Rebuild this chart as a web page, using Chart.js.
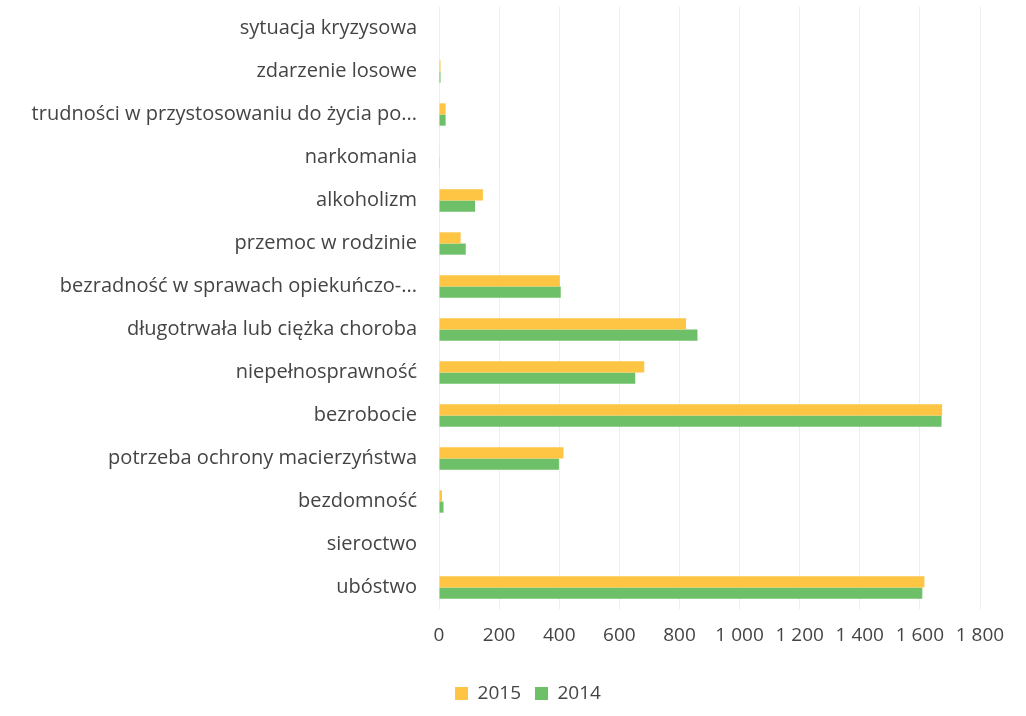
<!DOCTYPE html>
<html>
<head>
<meta charset="utf-8">
<style>
  html, body { margin: 0; padding: 0; background: #fff; }
  #wrap { width: 1026px; height: 716px; }
</style>
<script src="https://cdn.jsdelivr.net/npm/chart.js@4"></script>
</head>
<body>
<div id="wrap"><canvas id="chart"></canvas></div>
<script>
const categories = [
  "sytuacja kryzysowa",
  "zdarzenie losowe",
  "trudności w przystosowaniu do życia po...",
  "narkomania",
  "alkoholizm",
  "przemoc w rodzinie",
  "bezradność w sprawach opiekuńczo-...",
  "długotrwała lub ciężka choroba",
  "niepełnosprawność",
  "bezrobocie",
  "potrzeba ochrony macierzyństwa",
  "bezdomność",
  "sieroctwo",
  "ubóstwo"
];
const values2015 = [0, 5, 22, 2, 146, 72, 402, 822, 683, 1674, 414, 10, 0, 1615];
const values2014 = [0, 5, 22, 1, 120, 89, 405, 860, 653, 1672, 399, 15, 0, 1608];

const xTicks = [0, 200, 400, 600, 800, 1000, 1200, 1400, 1600, 1800];

const font = "'Open Sans', sans-serif";
const fmt = (v) => String(v).replace(/\B(?=(\d{3})+(?!\d))/g, " ");

const ctx = document.getElementById("chart").getContext("2d");

new Chart(ctx, {
  type: "bar",
  data: {
    labels: categories,
    datasets: [
      {
        label: "2015",
        data: values2015,
        backgroundColor: "#FDC543",
        categoryPercentage: 0.52,
        barPercentage: 1
      },
      {
        label: "2014",
        data: values2014,
        backgroundColor: "#6DC067",
        categoryPercentage: 0.52,
        barPercentage: 1
      }
    ]
  },
  options: {
    indexAxis: "y",
    responsive: true,
    maintainAspectRatio: false,
    animation: false,
    layout: {
      padding: { left: 30, right: 0, top: 7, bottom: 3 }
    },
    scales: {
      x: {
        min: 0,
        max: 1800,
        afterBuildTicks: (axis) => {
          axis.ticks = xTicks.map((v) => ({ value: v }));
        },
        afterFit: (axis) => {
          axis.height = 61;
          axis.paddingRight = 46;
        },
        grid: { color: "#eeeeee", drawTicks: false },
        border: { display: false },
        ticks: {
          padding: 15,
          color: "#444",
          font: { family: font, size: 19 },
          callback: (v) => fmt(v)
        }
      },
      y: {
        afterFit: (axis) => {
          axis.width = 409;
          axis.paddingTop = 0;
          axis.paddingBottom = 0;
        },
        grid: { display: false, drawTicks: false },
        border: { display: false },
        ticks: {
          padding: 22,
          color: "#444",
          font: { family: font, size: 20 }
        }
      }
    },
    plugins: {
      legend: {
        position: "bottom",
        labels: {
          boxWidth: 13,
          boxHeight: 13,
          padding: 14,
          color: "#444",
          font: { family: font, size: 19 }
        }
      },
      tooltip: { enabled: false }
    }
  }
});
</script>
</body>
</html>
